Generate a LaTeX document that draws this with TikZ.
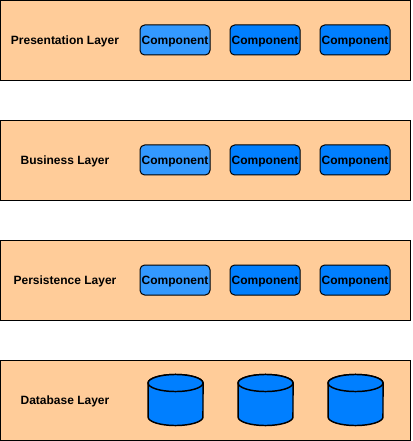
\documentclass[tikz,border=0pt]{standalone}
\usepackage{fontspec}
\setmainfont{Liberation Sans}
\usetikzlibrary{positioning}
\definecolor{layerfill}{HTML}{FFCC99}
\definecolor{compfill}{HTML}{007FFF}
\definecolor{compfirst}{HTML}{3399FF}
\tikzset{
  layer/.style={draw,line width=0.75pt,fill=layerfill,minimum width=308pt,minimum height=60pt,inner sep=0pt},
  layertext/.style={font=\bfseries\fontsize{9}{11}\selectfont,inner sep=0pt,text depth=0pt},
  comp/.style={draw,line width=0.75pt,rounded corners=3.5pt,fill=compfill,minimum width=52.5pt,minimum height=22.5pt,inner sep=0pt,text depth=0pt,font=\bfseries\fontsize{9}{11}\selectfont},
  compa/.style={comp,fill=compfirst},
  dbspot/.style={inner sep=0pt,minimum size=0pt},
  dbline/.style={draw,line width=1.1pt,fill=compfill}
}
\newcommand{\dbcyl}[1]{%
  \begin{scope}[shift={(#1.center)}]
    \draw[dbline] (-27.5,-17) -- (-27.5,17) arc[start angle=180,end angle=360,x radius=20.6pt,y radius=6.4pt]
      -- (27.5,-17) arc[start angle=0,end angle=180,x radius=20.6pt,y radius=6.4pt] -- cycle;
    \draw[dbline] (0,-17) ellipse[x radius=20.6pt,y radius=6.4pt];
  \end{scope}}
\begin{document}
\begin{tikzpicture}[x=0.75pt,y=-0.75pt,node distance=67.5pt,on grid]
    \useasboundingbox (0,0) rectangle (412,441);
    \node[layer] (layer_1) at (205.5,40.5) {};
    \node[layer] (layer_2) [below =90pt of layer_1] {};
    \node[layer] (layer_3) [below =90pt of layer_2] {};
    \node[layer] (layer_4) [below =90pt of layer_3] {};

    \node[layertext] (text_1) at (65,40) {Presentation Layer};
    \node[layertext] (text_2) [below =90pt of text_1] {Business Layer};
    \node[layertext] (text_3) [below =90pt of text_2] {Persistence Layer};
    \node[layertext] (text_4) [below =90pt of text_3] {Database Layer};

    \node[compa] (c_11) [right =82.5pt of text_1] {Component};
    \node[comp] (c_12) [right =of c_11] {Component};
    \node[comp] (c_13) [right =of c_12] {Component};

    \node[compa] (c_21) [right =82.5pt of text_2] {Component};
    \node[comp] (c_22) [right =of c_21] {Component};
    \node[comp] (c_23) [right =of c_22] {Component};

    \node[compa] (c_31) [right =82.5pt of text_3] {Component};
    \node[comp] (c_32) [right =of c_31] {Component};
    \node[comp] (c_33) [right =of c_32] {Component};

    \node[dbspot] (d_1) [right =82.9pt of text_4] {};
    \node[dbspot] (d_2) [right =of d_1] {};
    \node[dbspot] (d_3) [right =of d_2] {};
    \dbcyl{d_1}
    \dbcyl{d_2}
    \dbcyl{d_3}
\end{tikzpicture}
\end{document}
